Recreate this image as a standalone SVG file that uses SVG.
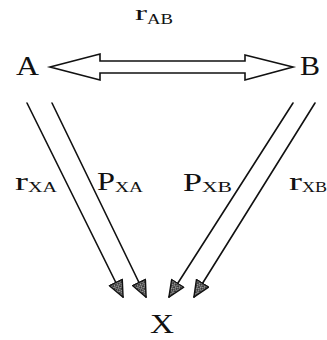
<svg xmlns="http://www.w3.org/2000/svg" width="327" height="340" viewBox="0 0 327 340">
<style>
.t{font-family:"Liberation Serif","Times New Roman",serif;fill:#111}
.big{font-size:28px}
.m{font-size:26px}
.s{font-size:15px}
.ln{stroke:#111;stroke-width:1.6;fill:none;stroke-linecap:round}
</style>
<defs>
<pattern id="hatch" width="3" height="3" patternUnits="userSpaceOnUse">
<rect width="3" height="3" fill="#999"/>
<path d="M0,0L3,3M3,0L0,3" stroke="#222" stroke-width="0.8"/>
</pattern>
<marker id="ah" markerUnits="userSpaceOnUse" viewBox="0 0 18 16" markerWidth="18" markerHeight="16" refX="17" refY="8" orient="auto">
<path d="M0.8,0.8L17.2,8L0.8,15.2z" fill="url(#hatch)" stroke="#111" stroke-width="1.4" stroke-linejoin="round"/>
</marker>
</defs>
<rect width="327" height="340" fill="#fff"/>
<g id="node-A"><text class="t big" x="16" y="75" textLength="23" lengthAdjust="spacingAndGlyphs">A</text></g>
<g id="node-B"><text class="t big" x="300" y="75" textLength="20" lengthAdjust="spacingAndGlyphs">B</text></g>
<g id="node-X"><text class="t big" x="150" y="333" textLength="24" lengthAdjust="spacingAndGlyphs">X</text></g>
<g id="connectors">
<path class="ln" stroke-linejoin="miter" d="M50,67L100,54L100,61L245,61L245,55L293,67L245,80L245,73L100,73L100,80Z" style="fill:#fff"/>
<line class="ln" x1="27" y1="103" x2="123" y2="297" marker-end="url(#ah)"/>
<line class="ln" x1="52" y1="103" x2="146" y2="297" marker-end="url(#ah)"/>
<line class="ln" x1="293" y1="103" x2="169" y2="297" marker-end="url(#ah)"/>
<line class="ln" x1="315" y1="103" x2="194" y2="297" marker-end="url(#ah)"/>
</g>
<g id="labels">
<text class="t" style="font-size:22px" x="135" y="20" textLength="12" lengthAdjust="spacingAndGlyphs">r</text>
<text class="t s" x="147" y="24" textLength="26" lengthAdjust="spacingAndGlyphs">AB</text>
<text class="t m" x="15" y="190" textLength="13" lengthAdjust="spacingAndGlyphs">r</text>
<text class="t s" x="28" y="192" textLength="29" lengthAdjust="spacingAndGlyphs">XA</text>
<text class="t m" x="97" y="190" textLength="18" lengthAdjust="spacingAndGlyphs">P</text>
<text class="t s" x="115" y="192" textLength="28" lengthAdjust="spacingAndGlyphs">XA</text>
<text class="t m" x="183" y="191" textLength="19" lengthAdjust="spacingAndGlyphs">P</text>
<text class="t s" x="202" y="192" textLength="30" lengthAdjust="spacingAndGlyphs">XB</text>
<text class="t m" x="289" y="190" textLength="13" lengthAdjust="spacingAndGlyphs">r</text>
<text class="t s" x="302" y="192" textLength="25" lengthAdjust="spacingAndGlyphs">XB</text>
</g>
</svg>
